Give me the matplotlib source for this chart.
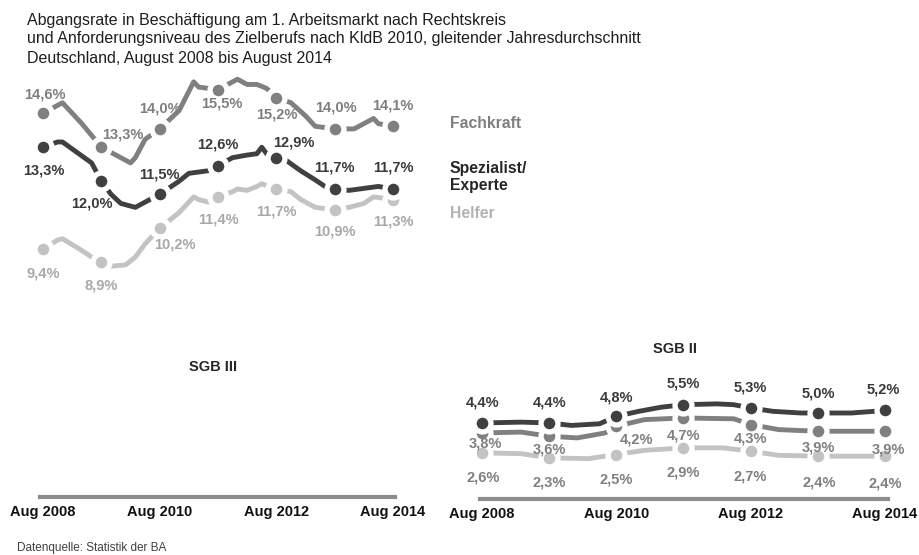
import matplotlib
matplotlib.use("Agg")
import matplotlib.pyplot as plt

plt.rcParams['font.family'] = ['Liberation Sans', 'DejaVu Sans']

# ---------------- data ----------------
# months since Aug 2008 (0 = Aug 2008, 72 = Aug 2014)
tick_months = [0, 24, 48, 72]
tick_labels = ["Aug 2008", "Aug 2010", "Aug 2012", "Aug 2014"]

# SGB III
sgb3_fach_m = [0, 3, 4, 8, 12, 14, 18, 19, 21, 24, 28, 31, 32, 36, 39, 40, 42, 44, 46, 48, 51, 54, 56, 60, 64, 66, 68, 69, 72]
sgb3_fach_v = [14.6, 14.9, 15.0, 14.2, 13.3, 13.1, 12.7, 12.9, 13.6, 14.0, 14.7, 15.8, 15.6, 15.5, 15.8, 15.9, 15.7, 15.7, 15.55, 15.2, 15.0, 14.5, 14.1, 14.0, 14.0, 14.2, 14.4, 14.2, 14.1]

sgb3_spez_m = [0, 3, 4, 7, 10, 12, 14, 16, 19, 21, 24, 28, 30, 32, 34, 36, 39, 42, 44, 45, 46, 48, 50, 53, 56, 58, 60, 63, 67, 69, 72]
sgb3_spez_v = [13.3, 13.5, 13.5, 13.1, 12.7, 12.0, 11.5, 11.15, 11.0, 11.2, 11.5, 12.0, 12.3, 12.35, 12.4, 12.6, 12.9, 13.0, 13.05, 13.3, 13.05, 12.9, 12.8, 12.4, 12.05, 11.8, 11.7, 11.65, 11.75, 11.8, 11.7]

sgb3_helf_m = [0, 3, 4, 8, 10, 12, 14, 17, 19, 21, 24, 28, 31, 32, 34, 36, 39, 40, 42, 44, 45, 48, 51, 53, 56, 60, 63, 66, 68, 70, 72]
sgb3_helf_v = [9.4, 9.75, 9.8, 9.35, 9.1, 8.9, 8.75, 8.8, 9.1, 9.6, 10.2, 10.8, 11.4, 11.3, 11.2, 11.4, 11.6, 11.7, 11.65, 11.8, 11.9, 11.7, 11.6, 11.3, 11.0, 10.9, 11.0, 11.15, 11.4, 11.35, 11.3]

# SGB II
sgb2_spez_m = [0, 7, 12, 16, 21, 24, 28, 32, 36, 42, 45, 48, 52, 57, 60, 66, 70, 72]
sgb2_spez_v = [4.4, 4.45, 4.4, 4.25, 4.35, 4.8, 5.1, 5.35, 5.5, 5.55, 5.5, 5.3, 5.1, 5.0, 5.0, 5.0, 5.1, 5.2]

sgb2_fach_m = [0, 7, 12, 17, 22, 24, 29, 36, 45, 48, 53, 60, 66, 72]
sgb2_fach_v = [3.8, 3.85, 3.6, 3.5, 3.8, 4.2, 4.6, 4.7, 4.65, 4.3, 4.0, 3.9, 3.9, 3.9]

sgb2_helf_m = [0, 7, 12, 19, 24, 29, 36, 43, 48, 53, 60, 66, 72]
sgb2_helf_v = [2.6, 2.55, 2.3, 2.25, 2.5, 2.75, 2.9, 2.9, 2.7, 2.45, 2.4, 2.4, 2.4]

series_names = ["Fachkraft", "Spezialist/\nExperte", "Helfer"]

# ---------------- styles ----------------
C_FACH = "#808080"
C_SPEZ = "#404040"
C_HELF = "#c3c3c3"
LBL_FACH = "#7f7f7f"
LBL_SPEZ = "#3a3a3a"
LBL_HELF3 = "#a8a8a8"
LBL_HELF2 = "#808080"

W, H = 919, 555
fig = plt.figure(figsize=(W / 100, H / 100), dpi=100)


def ax_rect(x0, x1, ytop, ybot):
    return [x0 / W, 1 - ybot / H, (x1 - x0) / W, (ybot - ytop) / H]


def fpos(x, y):
    return x / W, 1 - y / H


def draw_series(ax, months, values, color, lblcolor, offsets, z):
    ax.plot(months, values, color=color, lw=3.5, solid_capstyle='butt',
            solid_joinstyle='round', zorder=z, clip_on=False)
    am = [m for m in months if m % 12 == 0]
    av = [v for m, v in zip(months, values) if m % 12 == 0]
    ax.plot(am, av, ls='none', marker='o', ms=12.2, mfc=color, mec='white',
            mew=3.8, zorder=z + 0.5, clip_on=False)
    for (m, v), (dx, dy) in zip(zip(am, av), offsets):
        ax.annotate(f"{v:.1f}%".replace(".", ","), (m, v), xytext=(dx, dy),
                    textcoords='offset pixels', ha='center', va='center',
                    fontsize=10.5, fontweight='bold', color=lblcolor,
                    zorder=z + 1, annotation_clip=False)


def style_axis(ax):
    for s in ['top', 'right', 'left']:
        ax.spines[s].set_visible(False)
    ax.spines['bottom'].set_linewidth(3.0)
    ax.spines['bottom'].set_color('#8c8c8c')
    ax.set_yticks([])
    ax.set_xticks(tick_months)
    ax.set_xticklabels(tick_labels, fontsize=10.5, fontweight='bold', color='#111111')
    ax.tick_params(axis='x', length=0, pad=6)
    ax.patch.set_alpha(0)


# ---- left: SGB III ----
ax1 = fig.add_axes(ax_rect(40, 395, 75, 497))
ax1.set_xlim((40 - 43) / 4.861, (395 - 43) / 4.861)
ax1.set_ylim((495 - 497) / 26.15, (495 - 75) / 26.15)
style_axis(ax1)
draw_series(ax1, sgb3_helf_m, sgb3_helf_v, C_HELF, LBL_HELF3,
            [(0, -24), (0, -23), (15, -16), (0, -23), (0, -22), (0, -22), (0, -22)], 2)
draw_series(ax1, sgb3_fach_m, sgb3_fach_v, C_FACH, LBL_FACH,
            [(2, 19), (21, 13), (0, 20), (4, -14), (0, -17), (1, 21), (0, 21)], 3)
draw_series(ax1, sgb3_spez_m, sgb3_spez_v, C_SPEZ, LBL_SPEZ,
            [(1, -23), (-9, -22), (0, 20), (0, 21), (17, 15), (0, 22), (0, 22)], 4)

# ---- right: SGB II ----
ax2 = fig.add_axes(ax_rect(480, 888, 370, 499))
ax2.set_xlim((480 - 482) / 5.597, (888 - 482) / 5.597)
ax2.set_ylim((496 - 499) / 16.6, (496 - 370) / 16.6)
style_axis(ax2)
draw_series(ax2, sgb2_helf_m, sgb2_helf_v, C_HELF, LBL_HELF2,
            [(1, -25), (0, -25), (0, -25), (0, -25), (0, -25), (1, -26), (0, -27)], 2)
draw_series(ax2, sgb2_fach_m, sgb2_fach_v, C_FACH, LBL_FACH,
            [(3, -11), (0, -13), (20, -13), (0, -18), (0, -14), (1, -16), (3, -18)], 3)
draw_series(ax2, sgb2_spez_m, sgb2_spez_v, C_SPEZ, LBL_SPEZ,
            [(1, 20), (0, 20), (0, 19), (0, 21), (0, 21), (1, 20), (-2, 20)], 4)

# ---- texts ----
TITLE_C = '#1e1e1e'
fig.text(*fpos(27, 21), "Abgangsrate in Beschäftigung am 1. Arbeitsmarkt nach Rechtskreis",
         fontsize=11.5, color=TITLE_C, va='center', ha='left')
fig.text(*fpos(27, 39), "und Anforderungsniveau des Zielberufs nach KldB 2010, gleitender Jahresdurchschnitt",
         fontsize=11.5, color=TITLE_C, va='center', ha='left')
fig.text(*fpos(27, 58), "Deutschland, August 2008 bis August 2014",
         fontsize=11.5, color=TITLE_C, va='center', ha='left')

fig.text(*fpos(450, 123), series_names[0], fontsize=11.3, fontweight='bold',
         color=LBL_FACH, va='center', ha='left')
fig.text(*fpos(450, 177), series_names[1], fontsize=11.3, fontweight='bold',
         color='#262626', va='center', ha='left', linespacing=1.1)
fig.text(*fpos(450, 213), series_names[2], fontsize=11.3, fontweight='bold',
         color='#b3b3b3', va='center', ha='left')

fig.text(*fpos(213, 367), "SGB III", fontsize=10.5, fontweight='bold',
         color='#262626', va='center', ha='center')
fig.text(*fpos(675, 349), "SGB II", fontsize=10.5, fontweight='bold',
         color='#262626', va='center', ha='center')

fig.text(*fpos(17, 548), "Datenquelle: Statistik der BA", fontsize=8.5,
         color='#404040', va='center', ha='left')

fig.savefig("out.png", dpi=100)
